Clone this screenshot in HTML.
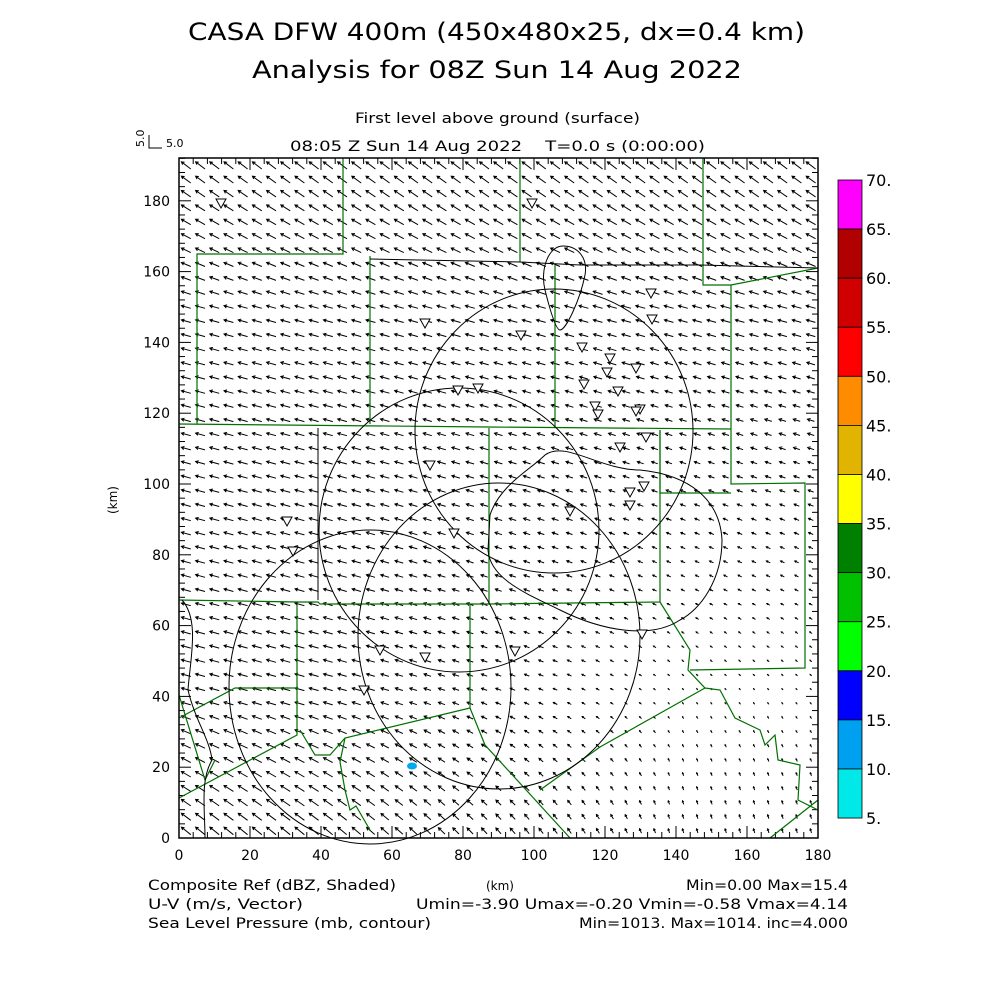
<!DOCTYPE html>
<html><head><meta charset="utf-8"><style>
body{margin:0;background:#fff;}
svg text{font-family:"DejaVu Sans","Liberation Sans",sans-serif;fill:#000;}
</style></head><body>
<svg id="s" width="1000" height="1000" viewBox="0 0 1000 1000" xmlns="http://www.w3.org/2000/svg">
<rect width="1000" height="1000" fill="#fff"/>
<text x="188" y="40" font-size="24" textLength="617" lengthAdjust="spacingAndGlyphs">CASA DFW 400m (450x480x25, dx=0.4 km)</text>
<text x="252" y="78" font-size="24" textLength="490" lengthAdjust="spacingAndGlyphs">Analysis for 08Z Sun 14 Aug 2022</text>
<text x="355" y="123" font-size="14" textLength="285" lengthAdjust="spacingAndGlyphs">First level above ground (surface)</text>
<text x="290" y="151" font-size="14" textLength="415" lengthAdjust="spacingAndGlyphs" xml:space="preserve">08:05 Z Sun 14 Aug 2022    T=0.0 s (0:00:00)</text>
<text x="144" y="147" font-size="11" transform="rotate(-90 144 147)">5.0</text>
<path d="M149,135 V148 H162" stroke="#000" fill="none"/>
<text x="166" y="147" font-size="11">5.0</text>
<text x="117" y="500" font-size="12" transform="rotate(-90 117 500)" text-anchor="middle">(km)</text>
<text x="500" y="890" font-size="12" text-anchor="middle">(km)</text>
<text x="148" y="890" font-size="14" textLength="248" lengthAdjust="spacingAndGlyphs">Composite Ref (dBZ, Shaded)</text>
<text x="148" y="909" font-size="14" textLength="155" lengthAdjust="spacingAndGlyphs">U-V (m/s, Vector)</text>
<text x="148" y="928" font-size="14" textLength="283" lengthAdjust="spacingAndGlyphs">Sea Level Pressure (mb, contour)</text>
<text x="686" y="890" font-size="14" textLength="162" lengthAdjust="spacingAndGlyphs">Min=0.00 Max=15.4</text>
<text x="416" y="909" font-size="14" textLength="432" lengthAdjust="spacingAndGlyphs">Umin=-3.90 Umax=-0.20 Vmin=-0.58 Vmax=4.14</text>
<text x="579" y="928" font-size="14" textLength="269" lengthAdjust="spacingAndGlyphs">Min=1013. Max=1014. inc=4.000</text>
<g id="cb"></g>
<g id="ax"></g>
<g id="vec" stroke="#000" stroke-width="1" fill="none"></g>
<g fill="none" stroke="#007000" stroke-width="1.2">
<polyline points="343,158 343,254 197,254 197,424"/>
<polyline points="370,256 370,424"/>
<polyline points="179,424 489,427 731,429"/>
<polyline points="520,158 520,262"/>
<polyline points="555,265 555,428"/>
<polyline points="703,158 703,285 731,285 818,268"/>
<polyline points="731,285 731,484 805,483 805,668 690,670"/>
<polyline points="660,430 660,493 731,493"/>
<polyline points="489,428 489,604"/>
<polyline points="179,600 297,602 318,602 320,604 489,604 660,602 660,430"/>
<polyline points="297,604 297,688 235,688 179,718"/>
<polyline points="297,688 297,735 179,798"/>
<polyline points="470,604 470,708 345,738 330,755 315,755 300,730"/>
<polyline points="470,708 485,745 570,838"/>
<polyline points="345,738 340,762 345,790 350,810 356,806 370,830"/>
<polyline points="660,602 690,650 688,670 705,688 720,690 735,718 760,730 765,745 775,735 778,760 800,765 798,800 818,810"/>
<polyline points="705,688 600,747 540,790"/>
<polyline points="179,695 205,780 215,760"/>
<polyline points="818,800 770,838"/>
</g>
<g fill="none" stroke="#000" stroke-width="1">
<polyline points="318,428 318,600"/>
<polyline points="370,259 520,262 580,265 700,265 818,268"/>
<ellipse cx="554" cy="431" rx="139" ry="142"/>
<ellipse cx="459" cy="530" rx="140" ry="142"/>
<ellipse cx="499" cy="636" rx="141" ry="153"/>
<ellipse cx="370" cy="687" rx="141" ry="157"/>
<path d="M563,246 C548,246 540,270 545,290 C550,310 556,330 560,330 C566,330 580,300 585,275 C588,258 578,246 563,246 Z"/>
<path d="M490,515 C500,485 530,470 545,455 C565,440 600,470 640,470 C690,475 720,500 722,540 C722,580 700,610 680,620 C650,640 600,630 560,610 C530,595 490,580 488,550 Z"/>
<path d="M182,600 C200,620 190,660 188,690 C195,720 210,740 212,760 C200,780 205,810 205,838"/>
</g>
<g id="tri" fill="#fff" stroke="#000" stroke-width="1"></g>
<ellipse cx="412" cy="766" rx="5" ry="3.5" fill="#00a8f0"/>
<rect x="179" y="158" width="639" height="680" fill="none" stroke="#000" stroke-width="1.5"/>
</svg>
<script>
var NS="http://www.w3.org/2000/svg";
function el(p,t,a){var e=document.createElementNS(NS,t);for(var k in a)e.setAttribute(k,a[k]);document.getElementById(p).appendChild(e);return e;}
var cols=["#ff00ff","#b00000","#d00000","#ff0000","#ff8c00","#e0b400","#ffff00","#008000","#00c000","#00ff00","#0000ff","#00a0f0","#00e8e8"];
var labs=["70.","65.","60.","55.","50.","45.","40.","35.","30.","25.","20.","15.","10.","5."];
for(var i=0;i<13;i++){el("cb","rect",{x:838,y:180+i*49.08,width:24,height:49.08,fill:cols[i],stroke:"#000","stroke-width":0.8});}
for(var i=0;i<14;i++){var t=el("cb","text",{x:866,y:180+i*49.08+6,"font-size":16});t.textContent=labs[i];}
var X0=179,Y0=838,S=3.55;
for(var k=0;k<=180;k+=20){var t=el("ax","text",{x:X0+k*S,y:860,"font-size":14,"text-anchor":"middle"});t.textContent=k;}
for(var k=0;k<=180;k+=20){var t=el("ax","text",{x:170,y:Y0-k*3.54+5,"font-size":14,"text-anchor":"end"});t.textContent=k;}
for(var k=0;k<=180;k+=4){var big=k%20==0;var xx=X0+k*S;
 el("ax","line",{x1:xx,y1:Y0,x2:xx,y2:Y0-(big?12:6),stroke:"#000"});
 el("ax","line",{x1:xx,y1:158,x2:xx,y2:158+(big?12:6),stroke:"#000"});}
for(var k=0;k<=192;k+=4){var big=k%20==0;var yy=Y0-k*3.54;
 el("ax","line",{x1:X0,y1:yy,x2:X0+(big?12:6),y2:yy,stroke:"#000"});
 el("ax","line",{x1:818,y1:yy,x2:818-(big?12:6),y2:yy,stroke:"#000"});}
function cl(v){return Math.max(0,Math.min(1,v));}
var d="";
for(var gx=2;gx<180;gx+=4){for(var gy=2;gy<192;gy+=4){
 var sx=cl((gx-40)/100),sy=cl((150-gy)/110);
 var a=1-0.88*sx*sy;
 var u=-3.6*a;
 var v=1+2*cl((40-gy)/40)+1.8*cl((gy-150)/40);
 v*=(1-0.45*sx*sy);
 var px=X0+gx*S,py=Y0-gy*3.54;
 var L=2.6,dx=u*L,dy=-v*L;
 var x1=px-dx/2,y1=py-dy/2,x2=px+dx/2,y2=py+dy/2;
 var m=Math.hypot(dx,dy);if(m<0.5)continue;
 var ux=dx/m,uy=dy/m,h=Math.min(3.2,m*0.45);
 var hx1=x2-h*(ux*0.87-uy*0.5),hy1=y2-h*(uy*0.87+ux*0.5);
 var hx2=x2-h*(ux*0.87+uy*0.5),hy2=y2-h*(uy*0.87-ux*0.5);
 d+="M"+x1.toFixed(1)+","+y1.toFixed(1)+"L"+x2.toFixed(1)+","+y2.toFixed(1)+"M"+hx1.toFixed(1)+","+hy1.toFixed(1)+"L"+x2.toFixed(1)+","+y2.toFixed(1)+"L"+hx2.toFixed(1)+","+hy2.toFixed(1);
}}
el("vec","path",{d:d});
var tr=[[221,203],[532,203],[651,293],[652,319],[425,323],[521,335],[582,347],[610,358],[607,372],[636,368],[584,384],[618,391],[595,406],[598,414],[640,409],[636,411],[458,390],[478,388],[430,465],[620,447],[646,437],[630,492],[630,505],[644,486],[570,511],[287,521],[293,551],[454,533],[380,650],[425,657],[515,651],[642,634],[364,690]];
tr.forEach(function(p){el("tri","path",{d:"M"+(p[0]-5)+","+(p[1]-4)+"h10l-5,9z"});});
</script>
</body></html>
